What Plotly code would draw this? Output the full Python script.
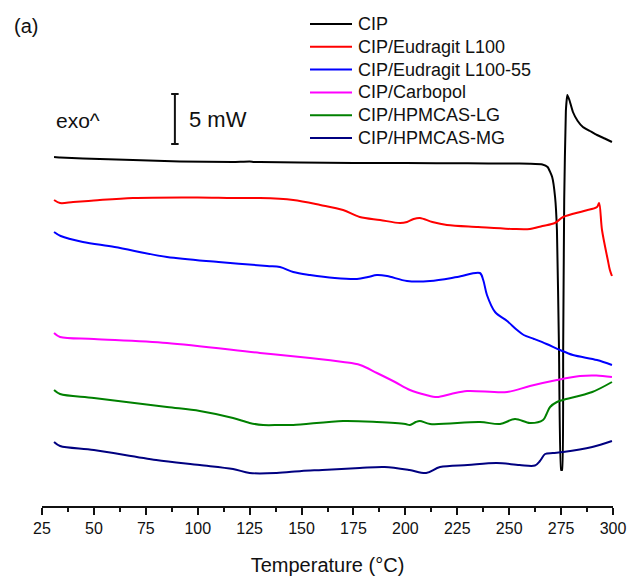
import plotly.graph_objects as go

# ---------------- data (temperature in °C, heat flow in mW incl. stacking offset) -------------
names = ["CIP", "CIP/Eudragit L100", "CIP/Eudragit L100-55", "CIP/Carbopol",
         "CIP/HPMCAS-LG", "CIP/HPMCAS-MG"]
colors = ["#000000", "#ff0000", "#0000ff", "#ff00ff", "#008000", "#000080"]

cip_t = [30.8, 33.7, 44.7, 68.8, 91.5, 117, 125, 127, 130, 149, 175, 200, 230, 250, 260, 266,
         268.5, 270.7, 272.1, 273.0, 274.0, 275.0, 275.5, 276.0, 276.5, 277.3, 278.0, 279.0,
         280.7, 283.0, 285.5, 288.9, 292.3, 296.0, 299.5]
cip_y = [34.9, 34.85, 34.75, 34.6, 34.45, 34.4, 34.45, 34.4, 34.4, 34.35, 34.3, 34.3, 34.27,
         34.25, 34.22, 34.15, 33.9, 32.9, 30.9, 27.6, 15.6, 3.6, 3.6, 15.6, 30.6, 39.5, 41.1,
         40.6, 39.4, 38.5, 37.9, 37.5, 37.1, 36.75, 36.4]

l100_t = [30.8, 33.7, 40, 50, 68.8, 100, 117, 130, 146, 159, 170, 178, 187.8, 197.4, 200.8,
          204, 207, 213, 220, 235, 251.8, 260, 266, 272, 276, 286, 292.3, 293.3, 294.7, 297.5,
          298.5, 299.5]
l100_y = [30.6, 30.3, 30.4, 30.55, 30.8, 30.85, 30.8, 30.8, 30.6, 30.1, 29.6, 28.9, 28.6, 28.3,
          28.4, 28.7, 28.8, 28.4, 28.1, 27.9, 27.7, 27.7, 28.0, 28.3, 28.9, 29.5, 29.9, 30.3,
          27.6, 24.6, 23.6, 23.0]

l10055_t = [30.8, 34, 44.7, 60, 85.2, 110, 133.4, 139.6, 146, 154.1, 166, 176.7, 182, 186.3,
            191.2, 200.8, 211.9, 225, 235.9, 237.5, 239.3, 243.2, 249, 253.8, 257, 262, 268,
            274.5, 280.7, 292.3, 299.5]
l10055_y = [27.4, 27.0, 26.4, 25.9, 24.9, 24.4, 24.0, 23.9, 23.4, 23.1, 22.8, 22.7, 22.9, 23.1,
            23.0, 22.5, 22.5, 22.9, 23.3, 22.6, 21.1, 19.4, 18.5, 17.6, 17.1, 16.7, 16.2, 15.6,
            15.1, 14.6, 14.1]

carb_t = [30.8, 33.7, 50, 85.2, 130, 154.1, 170, 178.2, 186.3, 195, 202.2, 210, 215.2, 222,
          229.7, 249, 260, 273, 284.1, 292, 299.5]
carb_y = [17.3, 16.9, 16.7, 16.3, 15.3, 14.8, 14.4, 14.1, 13.3, 12.4, 11.6, 11.1, 10.9, 11.2,
          11.5, 11.4, 12.0, 12.6, 13.0, 13.05, 12.9]

lg_t = [30.8, 33.7, 50, 85.2, 101, 117, 125, 131.5, 139.6, 146, 170, 186.3, 200, 202.2, 205,
        207, 211.9, 235.9, 245.6, 252.8, 260, 266.3, 268, 269.7, 273, 276, 290, 299.5]
lg_y = [11.6, 11.2, 10.8, 9.9, 9.5, 8.8, 8.3, 8.1, 8.1, 8.1, 8.5, 8.4, 8.2, 8.1, 8.4, 8.5, 8.2,
        8.4, 8.2, 8.7, 8.3, 8.6, 9.2, 9.9, 10.4, 10.6, 11.4, 12.4]

mg_t = [30.8, 33.7, 50, 80, 101, 117, 125, 138, 150, 160, 178, 190, 202, 210, 216.7, 230, 244,
        255, 262.4, 264.8, 267.3, 271, 276, 290, 299.5]
mg_y = [6.4, 6.0, 5.6, 4.6, 4.1, 3.7, 3.3, 3.3, 3.5, 3.6, 3.8, 3.9, 3.6, 3.3, 3.9, 4.1, 4.3,
        4.1, 4.05, 4.5, 5.2, 5.3, 5.4, 5.9, 6.5]

x_ticks = [25, 50, 75, 100, 125, 150, 175, 200, 225, 250, 275, 300]
scale_bar_mw = 5

series_t = [cip_t, l100_t, l10055_t, carb_t, lg_t, mg_t]
series_y = [cip_y, l100_y, l10055_y, carb_y, lg_y, mg_y]

# ---------------- figure ----------------
W, H = 631, 576
ML, MR, MT, MB = 42, 18, 0, 70
PW, PH = W - ML - MR, H - MT - MB
FONT = "Arial, Liberation Sans, sans-serif"

def px(x):
    return (x - ML) / PW

def py(y):
    return (H - MB - y) / PH

fig = go.Figure()
for i, (n, c, t, y) in enumerate(zip(names, colors, series_t, series_y)):
    fig.add_trace(go.Scatter(x=t, y=y, mode="lines", name=n, showlegend=False,
                             line=dict(color=c, width=2, shape="spline",
                                       smoothing=0.4 if i == 0 else 0.9),
                             hoverinfo="skip"))

shapes = []
annotations = []

# manual legend
leg_y0, leg_dy = 24, 22.8
for i, (n, c) in enumerate(zip(names, colors)):
    yy = leg_y0 + i * leg_dy
    shapes.append(dict(type="line", xref="paper", yref="paper", x0=px(310), x1=px(352),
                       y0=py(yy), y1=py(yy), line=dict(color=c, width=2)))
    annotations.append(dict(xref="paper", yref="paper", x=px(356), y=py(yy), text=n,
                            showarrow=False, xanchor="left", yanchor="middle",
                            font=dict(family=FONT, size=18, color="#111111")))

# scale bar (5 mW) in data units
sb_x, sb_y0 = 89, 36.2
shapes.append(dict(type="line", xref="x", yref="y", x0=sb_x, x1=sb_x, y0=sb_y0,
                   y1=sb_y0 + scale_bar_mw, line=dict(color="#111111", width=2)))
for yy in (sb_y0, sb_y0 + scale_bar_mw):
    shapes.append(dict(type="line", xref="x", yref="y", x0=sb_x - 1.8, x1=sb_x + 1.8,
                       y0=yy, y1=yy, line=dict(color="#111111", width=2)))

annotations.append(dict(xref="paper", yref="paper", x=px(12), y=py(26), text="(a)",
                        showarrow=False, xanchor="left", yanchor="middle",
                        font=dict(family=FONT, size=20, color="#111111")))
annotations.append(dict(xref="paper", yref="paper", x=px(54), y=py(121), text="exo^",
                        showarrow=False, xanchor="left", yanchor="middle",
                        font=dict(family=FONT, size=21, color="#111111")))
annotations.append(dict(xref="paper", yref="paper", x=px(187), y=py(120),
                        text=f"{scale_bar_mw} mW",
                        showarrow=False, xanchor="left", yanchor="middle",
                        font=dict(family=FONT, size=22, color="#111111")))

fig.update_layout(
    width=W, height=H,
    margin=dict(l=ML, r=MR, t=MT, b=MB, pad=0),
    paper_bgcolor="white", plot_bgcolor="white",
    showlegend=False,
    shapes=shapes, annotations=annotations,
    xaxis=dict(range=[25, 300], tickmode="array", tickvals=x_ticks,
               ticktext=[str(v) for v in x_ticks],
               showgrid=False, zeroline=False, showline=True, linecolor="#111111",
               linewidth=2, ticks="outside", ticklen=7, tickwidth=1.5, tickcolor="#111111",
               minor=dict(dtick=12.5, tick0=25, ticks="outside", ticklen=4, tickwidth=1.5,
                          tickcolor="#111111", showgrid=False),
               tickfont=dict(family=FONT, size=16, color="#111111"),
               title=dict(text="Temperature (°C)", standoff=24,
                          font=dict(family=FONT, size=20, color="#111111"))),
    yaxis=dict(range=[0, PH / 10], visible=False, fixedrange=True),
)

fig.write_html("out.html")
